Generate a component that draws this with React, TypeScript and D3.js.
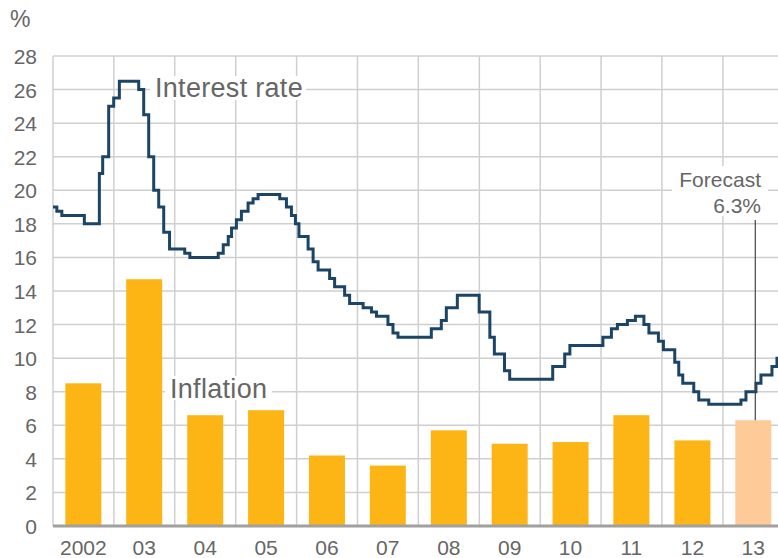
import React from 'react';
import * as d3 from 'd3';

const years = [2002, 2003, 2004, 2005, 2006, 2007, 2008, 2009, 2010, 2011, 2012, 2013];
const yearLabels = ['2002', '03', '04', '05', '06', '07', '08', '09', '10', '11', '12', '13'];
const inflation = [8.5, 14.7, 6.6, 6.9, 4.2, 3.6, 5.7, 4.9, 5.0, 6.6, 5.1, 6.3];
const forecastYear = 2013;
const yTicks = [0, 2, 4, 6, 8, 10, 12, 14, 16, 18, 20, 22, 24, 26, 28];

const rateDates = [
  '2002-01-01', '2002-01-24', '2002-02-23', '2002-07-08', '2002-10-06', '2002-10-26', '2002-12-01', '2002-12-31',
  '2003-02-03', '2003-05-30', '2003-06-29', '2003-07-29', '2003-08-28', '2003-09-27', '2003-10-27', '2003-12-01',
  '2004-03-01', '2004-04-01', '2004-09-18', '2004-10-18', '2004-11-17', '2004-12-07',
  '2005-01-05', '2005-02-04', '2005-03-16', '2005-04-15', '2005-05-15', '2005-09-22', '2005-11-01', '2005-12-01', '2005-12-25',
  '2006-01-15', '2006-03-11', '2006-04-10', '2006-05-10', '2006-07-18', '2006-08-17', '2006-10-16', '2006-11-15',
  '2007-02-04', '2007-03-26', '2007-04-25', '2007-07-03', '2007-08-02', '2007-09-01',
  '2008-03-19', '2008-05-18', '2008-06-17', '2008-08-22', '2008-12-31',
  '2009-03-05', '2009-04-01', '2009-06-01', '2009-07-02',
  '2010-03-17', '2010-05-28', '2010-06-28',
  '2011-01-12', '2011-03-04', '2011-04-09', '2011-06-08', '2011-07-26', '2011-09-15', '2011-10-15', '2011-12-11',
  '2012-01-10', '2012-03-18', '2012-04-11', '2012-05-05', '2012-07-10', '2012-08-09', '2012-10-08',
  '2013-04-19', '2013-05-19', '2013-07-18', '2013-08-17', '2013-10-22', '2013-11-21', '2013-12-10',
];
const rateValues = [
  19.0, 18.75, 18.5, 18.0, 21.0, 22.0, 25.0, 25.5,
  26.5, 26.0, 24.5, 22.0, 20.0, 19.0, 17.5, 16.5,
  16.25, 16.0, 16.25, 16.75, 17.25, 17.75,
  18.25, 18.75, 19.25, 19.5, 19.75, 19.5, 19.0, 18.5, 18.0,
  17.25, 16.5, 15.75, 15.25, 14.75, 14.25, 13.75, 13.25,
  13.0, 12.75, 12.5, 12.0, 11.5, 11.25,
  11.75, 12.25, 13.0, 13.75, 12.75,
  11.25, 10.25, 9.25, 8.75,
  9.5, 10.25, 10.75,
  11.25, 11.75, 12.0, 12.25, 12.5, 12.0, 11.5, 11.0,
  10.5, 9.75, 9.0, 8.5, 8.0, 7.5, 7.25,
  7.5, 8.0, 8.5, 9.0, 9.5, 10.0, 10.0,
];

const FONT = '"Liberation Sans", Arial, Helvetica, sans-serif';
const TXT = '#666666';

export default function App() {
  const W = 778;
  const H = 558;
  const left = 53;
  const yearW = 60.9;
  const parse = d3.timeParse('%Y-%m-%d');
  const x = d3
    .scaleTime()
    .domain([new Date(2002, 0, 1), new Date(2014, 0, 1)])
    .range([left, left + 12 * yearW]);
  const y = d3.scaleLinear().domain([0, 28]).range([526, 56]);
  const yearStart = (yr: number) => x(new Date(yr, 0, 1));
  const yearMid = (yr: number) => x(new Date(yr, 6, 2));
  const barW = 36;

  const linePath = d3
    .line<[number, number]>()
    .curve(d3.curveStepAfter)(
      rateDates.map((d, i) => [x(parse(d) as Date), y(rateValues[i])] as [number, number])
    );

  const fIdx = years.indexOf(forecastYear);
  const fx = yearMid(forecastYear) + 2;

  return (
    <svg
      width={W}
      height={H}
      style={{ position: 'absolute', left: 0, top: 0, background: '#fff' }}
      fontFamily={FONT}
    >
      <defs>
        <clipPath id="plotclip">
          <rect x={left} y={0} width={W - left} height={H} />
        </clipPath>
      </defs>
      <rect x={0} y={0} width={W} height={H} fill="#fff" />
      {/* horizontal grid */}
      {yTicks
        .filter((t) => t > 0)
        .map((t) => (
          <line key={'h' + t} x1={left} x2={W} y1={y(t)} y2={y(t)} stroke="#cfcfcf" strokeWidth={1.5} />
        ))}
      {/* vertical grid */}
      {years.map((yr) => (
        <line
          key={'v' + yr}
          x1={yearStart(yr)}
          x2={yearStart(yr)}
          y1={y(28)}
          y2={y(0)}
          stroke="#cfcfcf"
          strokeWidth={1.5}
        />
      ))}
      {/* bars */}
      {years.map((yr, i) => (
        <rect
          key={'b' + yr}
          x={yearMid(yr) - barW / 2}
          y={y(inflation[i])}
          width={barW}
          height={y(0) - y(inflation[i])}
          fill={yr === forecastYear ? '#fecb98' : '#fdb515'}
        />
      ))}
      {/* zero axis */}
      <line x1={left} x2={W} y1={y(0)} y2={y(0)} stroke="#a0a0a0" strokeWidth={3} />
      {/* y tick labels */}
      {yTicks.map((t) => (
        <text key={'yt' + t} x={37} y={y(t) + 8} textAnchor="end" fontSize={21} fill={TXT}>
          {t}
        </text>
      ))}
      <text x={10} y={27} fontSize={23} fill={TXT}>
        %
      </text>
      {/* x labels */}
      {years.map((yr, i) => (
        <text key={'xl' + yr} x={yearMid(yr)} y={555} textAnchor="middle" fontSize={21} fill={TXT}>
          {yearLabels[i]}
        </text>
      ))}
      {/* labels with white background */}
      <rect x={150} y={76} width={156} height={24} fill="#fff" />
      <text x={155} y={97} fontSize={27} fill={TXT} letterSpacing={0.3}>
        Interest rate
      </text>
      <rect x={165} y={376} width={107} height={24} fill="#fff" />
      <text x={170} y={398} fontSize={27} fill={TXT} letterSpacing={0.3}>
        Inflation
      </text>
      <rect x={672} y={166} width={96} height={50} fill="#fff" />
      <text x={761} y={187} textAnchor="end" fontSize={21} fill={TXT}>
        Forecast
      </text>
      <text x={761} y={213} textAnchor="end" fontSize={21} fill={TXT}>
        6.3%
      </text>
      {/* interest rate line */}
      <path
        d={linePath || ''}
        fill="none"
        stroke="#1b4467"
        strokeWidth={3}
        clipPath="url(#plotclip)"
      />
      {/* leader line */}
      <line x1={fx} x2={fx} y1={220} y2={y(inflation[fIdx])} stroke="#444" strokeWidth={1.2} />
    </svg>
  );
}
